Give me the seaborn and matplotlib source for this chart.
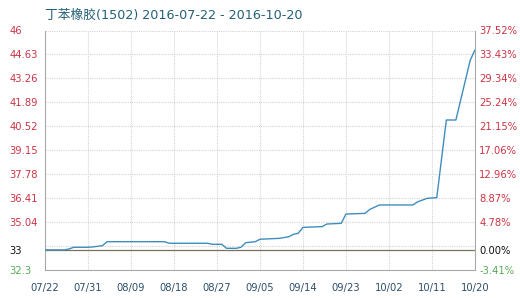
import matplotlib
matplotlib.use("Agg")
import matplotlib.pyplot as plt
import seaborn as sns
import pandas as pd
import numpy as np

# ---- data ----
start_date = "2016-07-22"
day_offsets = [0, 4, 5, 6, 9, 10, 12, 13, 25, 26, 34, 35, 37, 38, 40, 41, 42, 44, 45, 49,
               51, 52, 53, 54, 58, 59, 62, 63, 67, 68, 70, 77, 78, 80, 82, 84, 86, 89, 90]
prices = [33.45, 33.45, 33.50, 33.60, 33.60, 33.62, 33.69, 33.92, 33.92, 33.83, 33.83, 33.77,
          33.77, 33.54, 33.54, 33.60, 33.86, 33.92, 34.06, 34.11, 34.20, 34.34, 34.40, 34.74,
          34.78, 34.93, 34.97, 35.50, 35.54, 35.77, 36.02, 36.02, 36.20, 36.40, 36.44, 40.88,
          40.88, 44.30, 44.89]
base_price = 33.45
y_min, y_max = 32.3, 46.0
left_tick_vals = [32.3, 33.45, 35.04, 36.41, 37.78, 39.15, 40.52, 41.89, 43.26, 44.63, 46.0]
left_tick_labels = ["32.3", "33", "35.04", "36.41", "37.78", "39.15", "40.52", "41.89",
                    "43.26", "44.63", "46"]
right_tick_labels = ["-3.41%", "0.00%", "4.78%", "8.87%", "12.96%", "17.06%", "21.15%",
                     "25.24%", "29.34%", "33.43%", "37.52%"]
grid_levels = [33.67, 35.04, 36.41, 37.78, 39.15, 40.52, 41.89, 43.26, 44.63, 46.0]
x_tick_labels = ["07/22", "07/31", "08/09", "08/18", "08/27", "09/05", "09/14", "09/23",
                 "10/02", "10/11", "10/20"]
title = "丁苯橡胶(1502) 2016-07-22 - 2016-10-20"

dates = pd.to_datetime(start_date) + pd.to_timedelta(day_offsets, unit="D")
df = pd.DataFrame({"date": dates, "price": prices})
tick_dates = [pd.Timestamp(f"2016-{s.replace('/', '-')}") for s in x_tick_labels]

sns.set_theme(style="white")
plt.rcParams["font.family"] = ["DejaVu Sans"]

fig = plt.figure(figsize=(5.2, 2.98), dpi=100)
ax = fig.add_axes([45/520, 1-270/298, 430/520, 239.5/298])

grid_color = "#d4d4d4"
for g in grid_levels:
    ax.axhline(g, color=grid_color, lw=0.8, ls=(0, (1, 1)), zorder=0)
for d in tick_dates[1:-1]:
    ax.axvline(d, color=grid_color, lw=0.8, ls=(0, (1, 1)), zorder=0)
ax.axhline(base_price, color="#7a7060", lw=0.9, zorder=1)

sns.lineplot(data=df, x="date", y="price", ax=ax, color="#3f8dbd", lw=1.0, zorder=3)

ax.set_xlim(tick_dates[0], tick_dates[-1])
ax.set_ylim(y_min, y_max)
ax.set_xlabel("")
ax.set_ylabel("")

for side in ["left", "right", "bottom"]:
    ax.spines[side].set_visible(True)
    ax.spines[side].set_color("#a8a8a8")
    ax.spines[side].set_linewidth(0.8)
ax.spines["top"].set_visible(False)

ax.set_xticks(tick_dates)
ax.set_xticklabels(x_tick_labels)
ax.tick_params(axis="x", length=0, pad=9, labelsize=7.2, labelcolor="#2d4f6a")

red = "#cc3344"
green = "#55aa55"
ax.set_yticks(left_tick_vals)
ax.set_yticklabels(left_tick_labels)
ax.tick_params(axis="y", length=0, pad=25.5, labelsize=7.2)
for lab in ax.get_yticklabels():
    lab.set_horizontalalignment("left")
for i, lab in enumerate(ax.get_yticklabels()):
    lab.set_color(green if i == 0 else ("#111111" if i == 1 else red))

ax2 = ax.twinx()
ax2.set_ylim(y_min, y_max)
ax2.set_yticks(left_tick_vals)
ax2.set_yticklabels(right_tick_labels)
ax2.tick_params(axis="y", length=0, pad=3, labelsize=7.2)
for i, lab in enumerate(ax2.get_yticklabels()):
    lab.set_color(green if i == 0 else ("#111111" if i == 1 else red))
for s in ax2.spines.values():
    s.set_visible(False)

fig.text(45/520, 1-15/298, title, ha="left", va="center", fontsize=9.2,
         color="#245f78", family=["DejaVu Sans", "Noto Sans CJK SC"])

fig.savefig("out.png", dpi=100, facecolor="white")
